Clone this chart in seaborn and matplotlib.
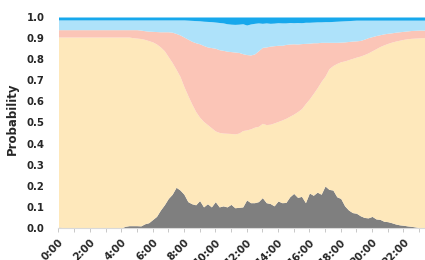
import numpy as np
import matplotlib
matplotlib.use("Agg")
import matplotlib.pyplot as plt
import seaborn as sns

# time in hours, 15-minute steps
hours = np.arange(96) * 0.25

# gray layer (bottom)
gray = [0.004, 0.003, 0.0, 0.0, 0.0, 0.0, 0.0, 0.0,
        0.0, 0.0, 0.0, 0.0, 0.0, 0.0, 0.0, 0.0,
        0.0, 0.008, 0.011, 0.011, 0.011, 0.010, 0.020, 0.025,
        0.040, 0.055, 0.085, 0.110, 0.140, 0.160, 0.193, 0.180,
        0.160, 0.125, 0.115, 0.110, 0.130, 0.100, 0.115, 0.100,
        0.125, 0.100, 0.105, 0.100, 0.112, 0.096, 0.098, 0.100,
        0.133, 0.120, 0.120, 0.125, 0.144, 0.120, 0.116, 0.105,
        0.128, 0.120, 0.121, 0.148, 0.164, 0.145, 0.150, 0.120,
        0.166, 0.155, 0.170, 0.160, 0.199, 0.183, 0.180, 0.148,
        0.140, 0.105, 0.085, 0.073, 0.070, 0.058, 0.050, 0.048,
        0.055, 0.043, 0.041, 0.032, 0.030, 0.025, 0.019, 0.015,
        0.013, 0.010, 0.008, 0.005, 0.002, 0.001, 0.0, 0.0]

# cumulative top of the yellow layer
yellow_top = [0.905] * 19 + [
        0.902, 0.900, 0.898, 0.894, 0.888,
        0.882, 0.872, 0.858, 0.840, 0.812, 0.784, 0.752, 0.718,
        0.670, 0.628, 0.588, 0.552, 0.525, 0.505, 0.490, 0.475,
        0.460, 0.453, 0.450, 0.449, 0.448, 0.446, 0.450, 0.462,
        0.465, 0.470, 0.478, 0.482, 0.496, 0.490, 0.492, 0.498,
        0.505, 0.512, 0.520, 0.530, 0.540, 0.552, 0.566, 0.590,
        0.612, 0.638, 0.665, 0.695, 0.720, 0.755, 0.770, 0.780,
        0.788, 0.792, 0.798, 0.804, 0.810, 0.815, 0.822, 0.830,
        0.840, 0.850, 0.860, 0.868, 0.875, 0.881, 0.886, 0.890,
        0.894, 0.897, 0.899, 0.900, 0.901, 0.902, 0.903, 0.904]

# cumulative top of the pink layer
pink_top = [0.940] * 21 + [
        0.938, 0.935, 0.933,
        0.932, 0.931, 0.930, 0.930, 0.930, 0.928, 0.922, 0.915,
        0.905, 0.895, 0.885, 0.878, 0.873, 0.865, 0.858, 0.855,
        0.852, 0.845, 0.842, 0.838, 0.836, 0.834, 0.832, 0.826,
        0.822, 0.820, 0.825, 0.840, 0.856, 0.858, 0.862, 0.864,
        0.866, 0.866, 0.870, 0.872, 0.873, 0.872, 0.874, 0.875,
        0.876, 0.878, 0.878, 0.880, 0.880, 0.880, 0.880, 0.880,
        0.881, 0.882, 0.884, 0.886, 0.887, 0.889, 0.895, 0.902,
        0.907, 0.912, 0.916, 0.920, 0.923, 0.925, 0.928, 0.930,
        0.932, 0.934, 0.936, 0.937, 0.938, 0.938, 0.938, 0.938]

# cumulative top of the light-blue layer
lightblue_top = [0.986] * 33 + [
        0.985, 0.984, 0.983, 0.982, 0.980, 0.979, 0.978,
        0.976, 0.974, 0.972, 0.968, 0.966, 0.965, 0.966, 0.968,
        0.962, 0.967, 0.970, 0.972, 0.970, 0.972, 0.970, 0.971,
        0.973, 0.972, 0.972, 0.974, 0.973, 0.974, 0.973, 0.975,
        0.975, 0.976, 0.977, 0.977, 0.978, 0.978, 0.979, 0.980,
        0.981, 0.982, 0.983, 0.984] + [0.985] * 20

total = [1.0] * 96

xtick_labels = ["0:00", "2:00", "4:00", "6:00", "8:00", "10:00",
                "12:00", "14:00", "16:00", "18:00", "20:00", "22:00"]
yticks = [0.0, 0.1, 0.2, 0.3, 0.4, 0.5, 0.6, 0.7, 0.8, 0.9, 1.0]

colors = ["#7F7F7F", "#FEE8BB", "#FBC5B7", "#AEE2FA", "#17A8EC"]

sns.set_theme(style="white")
plt.rcParams["font.family"] = ["DejaVu Sans"]

cum = np.vstack([np.array(gray), np.array(yellow_top), np.array(pink_top),
                 np.array(lightblue_top), np.array(total)])
layers = np.diff(np.vstack([np.zeros(96), cum]), axis=0)
layers = np.clip(layers, 0, None)

fig = plt.figure(figsize=(4.25, 2.6), dpi=100)
ax = fig.add_axes([58.5 / 425, 32 / 260, 376.3 / 425, 211 / 260])
ax.stackplot(hours, layers, colors=colors, linewidth=0)

ax.set_xlim(0, 24)
ax.set_ylim(0, 1.0)
ax.set_yticks(yticks)
ax.set_yticklabels([f"{v:.1f}" for v in yticks], fontsize=7.3, fontweight="bold")
ax.set_xticks(np.arange(0, 25, 1))
labels = []
for h in range(25):
    labels.append(xtick_labels[h // 2] if (h % 2 == 0 and h < 24) else "")
ax.set_xticklabels(labels, rotation=45, ha="right", rotation_mode="anchor",
                   fontsize=7.5, fontweight="bold")
ax.tick_params(axis="x", length=3, width=0.6, color="#BFBFBF", pad=3.5, bottom=True)
ax.tick_params(axis="y", length=0, pad=10)
ax.set_ylabel("Probability", fontsize=8.5, fontweight="bold", labelpad=3)
ax.yaxis.set_label_coords(-0.105, 0.52)

for side in ["top", "right", "left"]:
    ax.spines[side].set_visible(False)
ax.spines["bottom"].set_color("#D9D9D9")
ax.spines["bottom"].set_linewidth(0.8)

fig.savefig("out.png", dpi=100)
